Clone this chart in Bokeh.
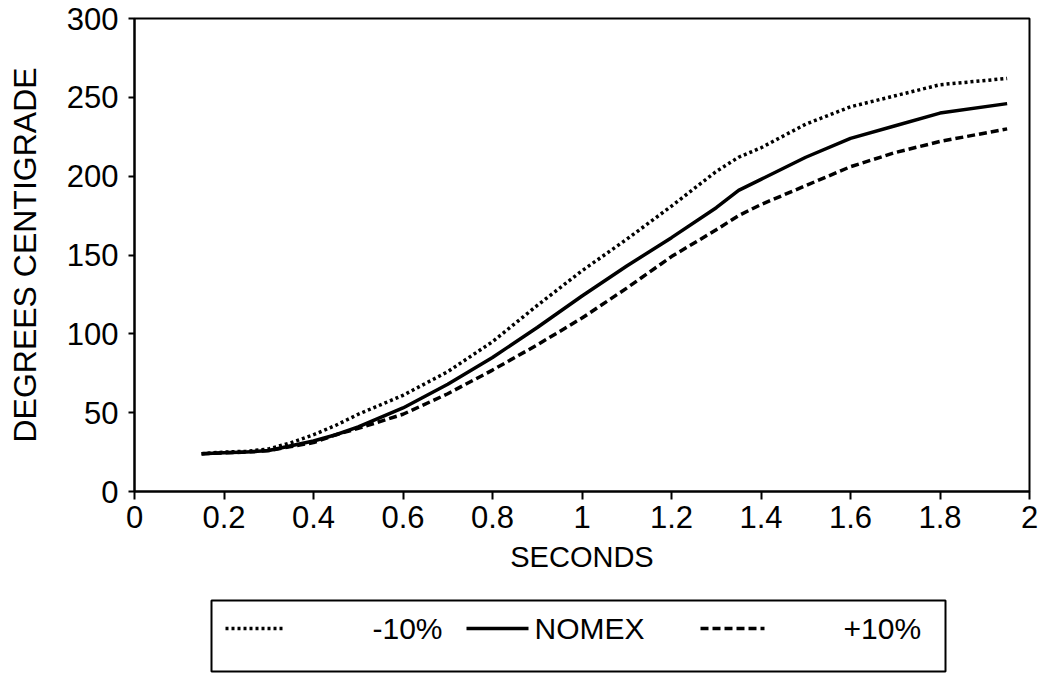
from bokeh.plotting import figure
from bokeh.layouts import column
from bokeh.models import Range1d, FixedTicker
from bokeh.core.properties import value
from bokeh.embed import file_html
from bokeh.resources import INLINE

# ---- data ----
seconds = [0.15, 0.2, 0.25, 0.3, 0.35, 0.4, 0.45, 0.5, 0.6, 0.7, 0.8, 0.9, 1.0,
           1.1, 1.2, 1.3, 1.35, 1.4, 1.5, 1.6, 1.7, 1.8, 1.95]
minus10 = [24, 25, 25.5, 27, 31, 36, 42, 49, 61, 76, 95, 118, 140,
           160, 181, 203, 212, 218, 233, 244, 251, 258, 262]
nomex = [24, 24.5, 25, 26, 29, 32, 36, 41, 53, 68, 85, 104, 124,
         143, 161, 180, 191, 198, 212, 224, 232, 240, 246]
plus10 = [24, 24.5, 25, 26, 28.5, 31, 36, 40, 49, 62, 77, 93, 110,
          129, 149, 166, 175, 182, 194, 206, 215, 222, 230]

x_ticks = [0, 0.2, 0.4, 0.6, 0.8, 1.0, 1.2, 1.4, 1.6, 1.8, 2.0]
x_tick_labels = ["0", "0.2", "0.4", "0.6", "0.8", "1", "1.2", "1.4", "1.6", "1.8", "2"]
y_ticks = [0, 50, 100, 150, 200, 250, 300]
y_tick_labels = ["0", "50", "100", "150", "200", "250", "300"]

series_labels = ["-10%", "NOMEX", "+10%"]

FONT = "Liberation Sans"

p = figure(width=1045, height=590, output_backend="svg", toolbar_location=None,
           x_range=Range1d(0, 2), y_range=Range1d(0, 300),
           min_border_left=134, min_border_right=16, min_border_top=18,
           min_border_bottom=99)
p.background_fill_color = "white"
p.border_fill_color = "white"
p.outline_line_color = "black"
p.outline_line_width = 2
p.xgrid.visible = False
p.ygrid.visible = False

p.line(seconds, minus10, line_color="black", line_width=3.5, line_dash="3 3")
p.line(seconds, nomex, line_color="black", line_width=3.5)
p.line(seconds, plus10, line_color="black", line_width=3.5, line_dash="8 4")

xa = p.xaxis[0]
xa.ticker = FixedTicker(ticks=x_ticks)
xa.major_label_overrides = {t: l for t, l in zip(x_ticks, x_tick_labels)}
xa.minor_tick_line_color = None
xa.major_tick_out = 8
xa.major_tick_in = 0
xa.major_tick_line_width = 2
xa.axis_line_width = 2
xa.major_label_text_font = FONT
xa.major_label_text_font_size = "31px"
xa.major_label_text_color = "black"
xa.major_label_standoff = 6
xa.axis_label = "SECONDS"
xa.axis_label_text_font = FONT
xa.axis_label_text_font_size = "29px"
xa.axis_label_text_font_style = "normal"
xa.axis_label_text_color = "black"
xa.axis_label_standoff = 10

ya = p.yaxis[0]
ya.ticker = FixedTicker(ticks=y_ticks)
ya.major_label_overrides = {t: l for t, l in zip(y_ticks, y_tick_labels)}
ya.minor_tick_line_color = None
ya.major_tick_out = 6
ya.major_tick_in = 0
ya.major_tick_line_width = 2
ya.axis_line_width = 2
ya.major_label_text_font = FONT
ya.major_label_text_font_size = "31px"
ya.major_label_text_color = "black"
ya.major_label_standoff = 10
ya.major_label_orientation = "horizontal"
ya.axis_label = "DEGREES CENTIGRADE"
ya.axis_label_text_font = FONT
ya.axis_label_text_font_size = "32px"
ya.axis_label_text_font_style = "normal"
ya.axis_label_text_color = "black"
ya.axis_label_standoff = 21

# ---- legend panel (frame aligned with the chart frame: 134..1029 px) ----
q = figure(width=1045, height=83, output_backend="svg", toolbar_location=None,
           x_range=Range1d(134, 1029), y_range=Range1d(83, 0),
           min_border_left=134, min_border_right=16,
           min_border_top=0, min_border_bottom=0)
q.axis.visible = False
q.xgrid.visible = False
q.ygrid.visible = False
q.outline_line_color = None
q.background_fill_color = "white"
q.border_fill_color = "white"

q.quad(left=[211], right=[945], top=[10], bottom=[81], fill_color=None,
       line_color="black", line_width=2)
q.line([225, 283], [38, 38], line_color="black", line_width=3.5, line_dash="3 3")
q.line([466, 528], [38, 38], line_color="black", line_width=3.5)
q.line([700, 764], [38, 38], line_color="black", line_width=3.5, line_dash="8 4")
q.text(x=[372, 534, 843], y=[38, 38, 38], text=series_labels,
       text_font=value(FONT), text_font_size="30px", text_color="black",
       text_baseline="middle", text_align="left")

layout = column(p, q, spacing=0)
open("out.html", "w").write(file_html(layout, INLINE))
